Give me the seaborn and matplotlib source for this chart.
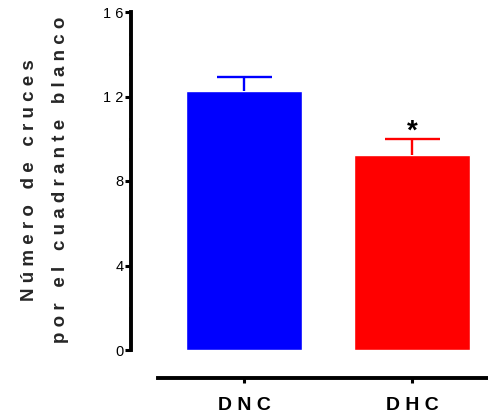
import matplotlib
matplotlib.use("Agg")
import matplotlib.pyplot as plt
import seaborn as sns
import pandas as pd
from matplotlib.ticker import MultipleLocator

groups = ["DNC", "DHC"]
means = [12.25, 9.25]
sems = [0.65, 0.72]
colors = ["#0000FF", "#FF0000"]
yticks = [0, 4, 8, 12, 16]
ylabel_lines = ["Número de cruces", "por el cuadrante blanco"]


def spaced(s, gap=" "):
    words = s.split(" ")
    return (gap + " " + gap).join(gap.join(w) for w in words)


sns.set_theme(style="ticks")
plt.rcParams['font.family'] = ['Liberation Sans', 'DejaVu Sans']

fig = plt.figure(figsize=(4.88, 4.18), dpi=100)
ax_left = 131
ax = fig.add_axes([ax_left/488, 68/418, 1 - ax_left/488, (350-12)/418])

df = pd.DataFrame({"group": groups, "mean": means})
sns.barplot(data=df, x="group", y="mean", hue="group", palette=colors,
            saturation=1, width=0.685, ax=ax, legend=False, errorbar=None)
for i, (m, s, c) in enumerate(zip(means, sems, colors)):
    _, caps, _ = ax.errorbar(i, m, yerr=[[0], [s]], fmt='none', ecolor=c, elinewidth=1.7,
                             capsize=19.8, capthick=1.7)
    caps[0].remove()

ax.text(1, means[1] + sems[1] - 0.27, "*", ha='center', va='bottom',
        fontsize=20, fontweight='bold', color='black')

# axis geometry: category 0 at px 244, category 1 at px 412
px = 168.0
ax.set_xlim(-(244 - ax_left) / px, 1 + (488 - 412) / px)
ax.set_ylim(0, 16)
ax.set_yticks(yticks)
ax.set_yticklabels([" ".join(str(v)) for v in yticks])
ax.yaxis.set_minor_locator(MultipleLocator(2))
ax.set_xticks([0, 1])
ax.set_xticklabels([spaced(g) for g in groups])
ax.set_xlabel("")
ax.set_ylabel("")

for sp in ['top', 'right']:
    ax.spines[sp].set_visible(False)
ax.spines['left'].set_linewidth(2.8)
ax.spines['bottom'].set_linewidth(2.8)
ax.spines['bottom'].set_position(('outward', 28 * 0.72))
ax.spines['bottom'].set_bounds(-(244 - 158) / px, 1 + (488 - 412) / px)
ax.spines['left'].set_color('black')
ax.spines['bottom'].set_color('black')
ax.tick_params(axis='y', which='major', length=4, width=2.2, color='black', pad=1.5,
               labelcolor='black', labelsize=10.5)
ax.tick_params(axis='y', which='minor', length=1.5, width=2.2, color='black')
ax.tick_params(axis='x', which='major', length=3.5, width=2.2, color='black', pad=10,
               labelcolor='black', labelsize=14)
for lab in ax.get_xticklabels():
    lab.set_fontweight('bold')

fig.text(34/488, 1 - 180/418, spaced(ylabel_lines[0]), rotation=90, ha='center', va='baseline',
         rotation_mode='anchor', fontsize=13.5, fontweight='bold')
fig.text(65/488, 1 - 180/418, spaced(ylabel_lines[1]), rotation=90, ha='center', va='baseline',
         rotation_mode='anchor', fontsize=13.5, fontweight='bold')

fig.savefig("out.png", dpi=100)
